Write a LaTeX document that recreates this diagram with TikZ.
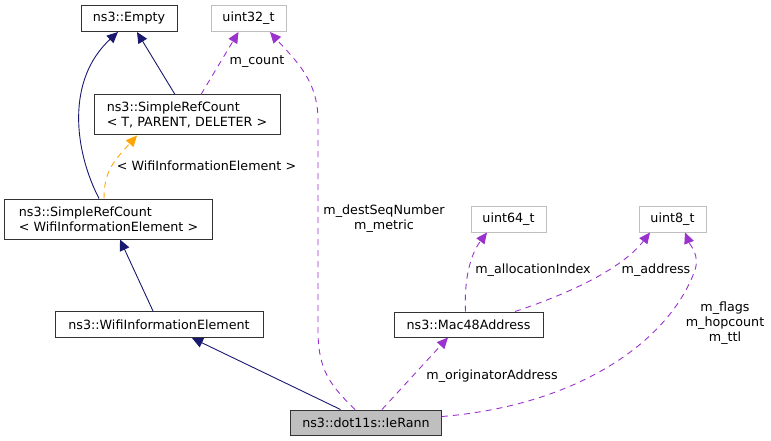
\documentclass[tikz,border=0pt]{standalone}
\usepackage{fontspec}
\setmainfont{DejaVu Sans}
\usepackage{xcolor}
\usetikzlibrary{arrows.meta}
\definecolor{inhblue}{HTML}{191970}
\definecolor{usepurple}{HTML}{9A32CD}
\definecolor{tmplorange}{HTML}{FFA500}
\definecolor{boxgray}{HTML}{BFBFBF}

\begin{document}
\begin{tikzpicture}[x=1pt,y=-1pt]
  \tikzset{font={\fontsize{12.7pt}{15pt}\selectfont}}
  \tikzset{cls/.style={draw=black!80,line width=1pt,inner sep=0pt,align=left},
    ext/.style={draw=boxgray,line width=1pt,inner sep=0pt},
    inh/.style={inhblue,line width=.9pt,-{Triangle[length=11pt,width=10pt]}},
    use/.style={usepurple,line width=.9pt,dash pattern=on 6pt off 5pt,-{Triangle[length=11pt,width=10pt]}},
    tmpl/.style={tmplorange,line width=.9pt,dash pattern=on 6pt off 5pt,-{Triangle[length=11pt,width=10pt]}}}
  \useasboundingbox (0,0) rectangle (771,441);
  % classes
  \node[cls,minimum width=96pt,minimum height=26pt] (empty) at (129,18.5) {ns3::Empty};
  \node[ext,minimum width=75pt,minimum height=26pt] (uint32) at (248.5,18.5) {uint32\_t};
  \node[cls,minimum width=186pt,minimum height=40pt] (srcT) at (187,115)
    {ns3::SimpleRefCount\\< T, PARENT, DELETER >};
  \node[cls,minimum width=208pt,minimum height=40pt] (srcW) at (108.5,219)
    {ns3::SimpleRefCount\\< WifiInformationElement >};
  \node[cls,minimum width=208pt,minimum height=26pt] (wie) at (159,324.5) {ns3::WifiInformationElement};
  \node[ext,minimum width=75pt,minimum height=26pt] (uint64) at (508.5,219) {uint64\_t};
  \node[ext,minimum width=67pt,minimum height=26pt] (uint8) at (672.5,219) {uint8\_t};
  \node[cls,minimum width=149pt,minimum height=25pt] (mac) at (468.5,324.5) {ns3::Mac48Address};
  \node[cls,fill=boxgray,minimum width=151pt,minimum height=25pt] (ieRann) at (366,422.5) {ns3::dot11s::IeRann};
  % inheritance
  \draw[inh] ([xshift=-12pt]srcT.north) -- ([xshift=8pt]empty.south);
  \draw[inh] ([xshift=-9.5pt]srcW.north) .. controls (74,150) and (66,80) .. ([xshift=-11pt]empty.south);
  \draw[inh] ([xshift=-6pt]wie.north) -- ([xshift=11.5pt]srcW.south);
  \draw[inh] ([xshift=-25.5pt]ieRann.north) -- ([xshift=33pt]wie.south);
  \draw[tmpl] ([xshift=-4.5pt]srcW.north) .. controls (104,170) and (115,160) .. ([xshift=-50pt]srcT.south);
  \node (tmplLbl) at (206.5,166) {< WifiInformationElement >};
  % members
  \draw[use] ([xshift=14pt]srcT.north) -- ([xshift=-10pt]uint32.south);
  \node (countLbl) at (257,62) {m\_count};
  \draw[use] ([xshift=-11pt]ieRann.north) .. controls (330,385) and (318,370) .. (318,330)
    -- (318,120) .. controls (318,80) and (295,60) .. ([xshift=21.5pt]uint32.south);
  \node[align=center] (seqLbl) at (384,218.5) {m\_destSeqNumber\\m\_metric};
  \draw[use] ([xshift=16pt]ieRann.north) -- ([xshift=-20.5pt]mac.south);
  \node (origLbl) at (492,376) {m\_originatorAddress};
  \draw[use] ([xshift=-3pt]mac.north) .. controls (464,280) and (470,255) .. ([xshift=-21.5pt]uint64.south);
  \node (allocLbl) at (533,270) {m\_allocationIndex};
  \draw[use] ([xshift=46.5pt]mac.north) .. controls (580,290) and (625,265) .. ([xshift=-22.5pt]uint8.south);
  \node (addrLbl) at (656,270) {m\_address};
  \draw[use] ([yshift=6pt]ieRann.east) .. controls (580,405) and (670,340) .. (695,270)
    .. controls (700,255) and (690,245) .. ([xshift=12.5pt]uint8.south);
  \node[align=center] (flagLbl) at (725,323.5) {m\_flags\\m\_hopcount\\m\_ttl};
\end{tikzpicture}
\end{document}
